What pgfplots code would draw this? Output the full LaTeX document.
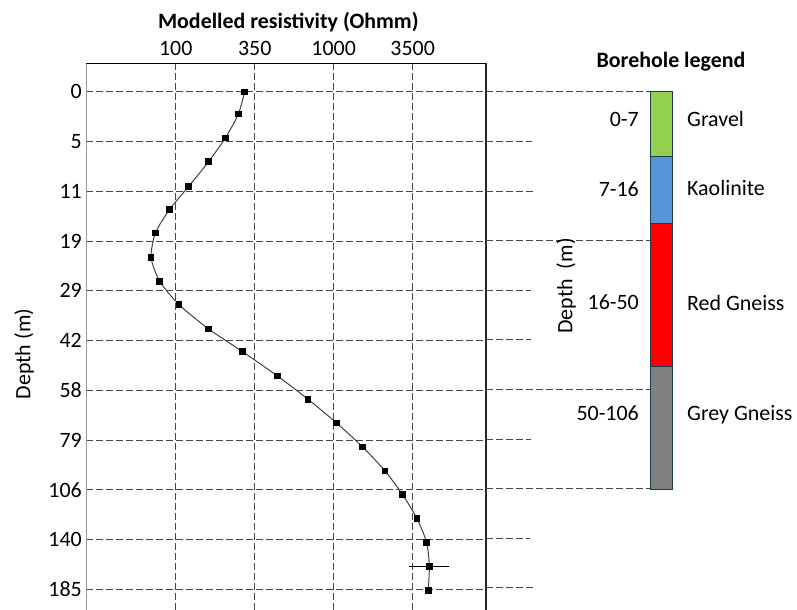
\documentclass[border=0pt]{standalone}
\usepackage{fontspec}
\setmainfont{Carlito}
\usepackage{pgfplots}
\pgfplotsset{compat=1.18}
\definecolor{gridc}{HTML}{474747}
\definecolor{linec}{HTML}{404040}
\definecolor{cgreen}{HTML}{92D050}
\definecolor{cblue}{HTML}{5596D8}
\definecolor{cred}{HTML}{FF0000}
\definecolor{cgrey}{HTML}{808080}
\definecolor{cborder}{HTML}{1F3A4D}
\tikzset{gridline/.style={gridc, line width=0.8bp, dash pattern=on 6.5bp off 3.5bp}}
\newcommand\fs{\fontsize{22}{26}\selectfont}
\begin{document}
\begin{tikzpicture}
\useasboundingbox (0,0) rectangle (797bp,-610bp);
\begin{axis}[
  at={(86bp,-63.3bp)}, anchor=north west,
  scale only axis, width=400bp, height=546.7bp,
  xmode=log, xmin=27.05, xmax=9203,
  ymin=-0.573, ymax=10.417, y dir=reverse,
  xtick={100,316.23,1000,3162.3}, xticklabels={100,350,1000,3500},
  xticklabel pos=right,
  ytick={0,1,2,3,4,5,6,7,8,9,10},
  yticklabels={0,5,11,19,29,42,58,79,106,140,185},
  xminorticks=false, yminorticks=false,
  tick style={draw=none},
  grid=major,
  major grid style={gridline},
  axis line style={draw=none},
  tick label style={font=\fs},
  xticklabel style={inner sep=0bp, yshift=7bp},
  yticklabel style={inner sep=0bp, xshift=-4bp},
  clip=false,
]
\draw[black!40, line width=0.9bp] (axis cs:27.05,-0.573) -- (axis cs:27.05,10.417);
\draw[black, line width=1.2bp] (axis cs:27.05,-0.573) -- (axis cs:9203,-0.573);
\draw[black!85, line width=1.8bp] (axis cs:9203,-0.573) -- (axis cs:9203,10.417);
\addplot[linec, line width=1bp, smooth, tension=0.4, mark=square*, mark size=2.8bp,
  mark options={black, solid}] coordinates {
  (273.3,0) (249,0.45) (206,0.93) (161.8,1.40) (120.9,1.90) (91.1,2.37)
  (74.3,2.84) (69.8,3.33) (79.2,3.81) (105,4.28) (161.8,4.77) (264,5.22)
  (439.5,5.71) (687.6,6.18) (1044.7,6.66) (1525.9,7.14) (2112,7.62)
  (2734,8.10) (3367,8.58) (3878,9.06) (4028,9.54) (3970,10.02)
};
\addplot[draw=none, mark=none, forget plot,
  error bars/.cd, x dir=both, x explicit, error mark=none,
  error bar style={black, line width=1.3bp}]
  table[row sep=\\, x error plus=ep, x error minus=em] {x y ep em\\ 4028 9.54 1363 1018\\};
\end{axis}
\begin{scope}[x=1bp, y=-1bp]
\foreach \k/\e in {0/650,1/532,2/535,3/650,4/531,5/531,6/650,7/531,8/650,9/530,10/535}
  \draw[gridline] (486,{91.7+49.6*\k}) -- (\e,{91.7+49.6*\k});
\end{scope}
\begin{axis}[
  at={(650.3bp,-63.3bp)}, anchor=north west,
  scale only axis, width=21.7bp, height=546.7bp,
  xmin=0, xmax=1, ymin=-0.573, ymax=10.417, y dir=reverse,
  hide axis, clip=false,
]
\addplot[fill=cgreen, draw=cborder, line width=0.9bp] coordinates {(0,0) (1,0) (1,1.302) (0,1.302)} --cycle;
\addplot[fill=cblue, draw=cborder, line width=0.9bp] coordinates {(0,1.302) (1,1.302) (1,2.647) (0,2.647)} --cycle;
\addplot[fill=cred, draw=cborder, line width=0.9bp] coordinates {(0,2.647) (1,2.647) (1,5.53) (0,5.53)} --cycle;
\addplot[fill=cgrey, draw=cborder, line width=0.9bp] coordinates {(0,5.53) (1,5.53) (1,8) (0,8)} --cycle;
\end{axis}
\begin{scope}[x=1bp, y=-1bp, every node/.style={inner sep=0pt, font=\fs}]
\node[anchor=base, font=\fs\bfseries] at (288.3,28.3) {Modelled resistivity (Ohmm)};
\node[anchor=base, font=\fs\bfseries] at (671,67.3) {Borehole legend};
\node[rotate=90] at (24,354) {Depth (m)};
\node[rotate=90] at (566,286) {Depth\ \ (m)};
\node[anchor=base east] at (639,126) {0-7};
\node[anchor=base east] at (639,196.7) {7-16};
\node[anchor=base east] at (639,309) {16-50};
\node[anchor=base east] at (639,420.7) {50-106};
\node[anchor=base west] at (687,126.5) {Gravel};
\node[anchor=base west] at (687,195) {Kaolinite};
\node[anchor=base west] at (687,310) {Red Gneiss};
\node[anchor=base west] at (687,420.5) {Grey Gneiss};
\end{scope}
\end{tikzpicture}
\end{document}
